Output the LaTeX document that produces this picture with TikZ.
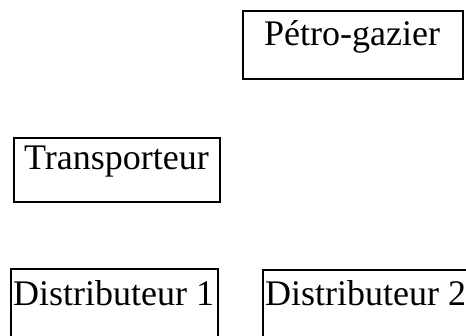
\documentclass[tikz,border=0pt]{standalone}
\usepackage{fontspec}
\setmainfont{Liberation Serif}
\begin{document}
\begin{tikzpicture}[x=1pt,y=-1pt,
  boxnode/.style={draw, line width=1.5pt, rectangle, inner sep=0pt, anchor=north west},
  lbl/.style={inner sep=0pt, anchor=base west, font=\fontsize{36}{40}\selectfont}]
\useasboundingbox (0,0) rectangle (466,335);
\clip (0,0) rectangle (466,335);
\node[boxnode, minimum width=220pt, minimum height=68pt] (pg) at (242,10) {};
\node[lbl] (pgt) at (264,45) {Pétro-gazier};
\node[boxnode, minimum width=206pt, minimum height=64pt] (tr) at (13,137) {};
\node[lbl] (trt) at (24,169) {Transporteur};
\node[boxnode, minimum width=207pt, minimum height=80pt] (d1) at (10,268) {};
\node[lbl] (d1t) at (13,305) {Distributeur 1};
\node[boxnode, minimum width=215pt, minimum height=80pt] (d2) at (262,269) {};
\node[lbl] (d2t) at (265,305) {Distributeur 2};
\end{tikzpicture}
\end{document}
